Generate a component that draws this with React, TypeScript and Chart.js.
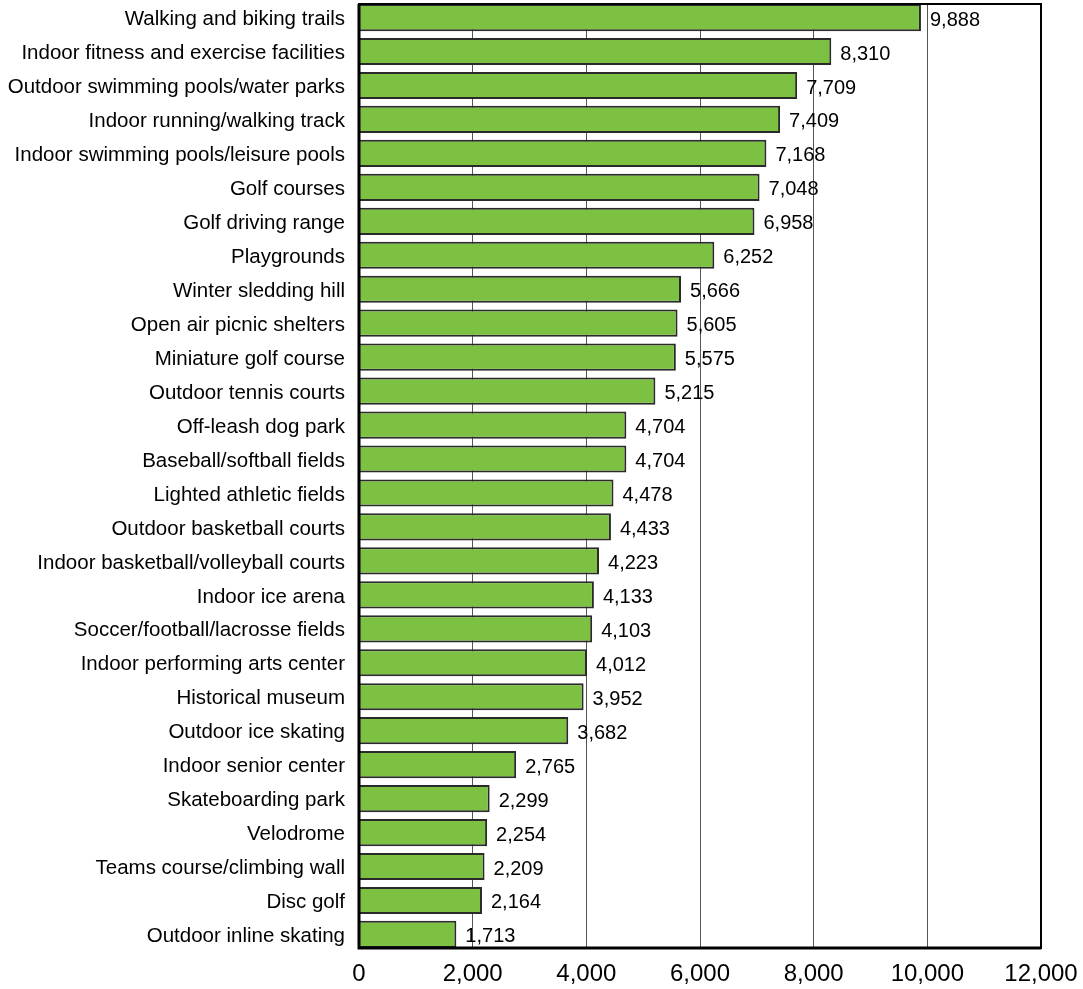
import React, { useEffect, useRef } from "react";
import { Chart, registerables } from "chart.js";

Chart.register(...registerables);

const categories = [
  "Walking and biking trails",
  "Indoor fitness and exercise facilities",
  "Outdoor swimming pools/water parks",
  "Indoor running/walking track",
  "Indoor swimming pools/leisure pools",
  "Golf courses",
  "Golf driving range",
  "Playgrounds",
  "Winter sledding hill",
  "Open air picnic shelters",
  "Miniature golf course",
  "Outdoor tennis courts",
  "Off-leash dog park",
  "Baseball/softball fields",
  "Lighted athletic fields",
  "Outdoor basketball courts",
  "Indoor basketball/volleyball courts",
  "Indoor ice arena",
  "Soccer/football/lacrosse fields",
  "Indoor performing arts center",
  "Historical museum",
  "Outdoor ice skating",
  "Indoor senior center",
  "Skateboarding park",
  "Velodrome",
  "Teams course/climbing wall",
  "Disc golf",
  "Outdoor inline skating",
];

const values = [
  9888, 8310, 7709, 7409, 7168, 7048, 6958, 6252, 5666, 5605, 5575, 5215, 4704, 4704,
  4478, 4433, 4223, 4133, 4103, 4012, 3952, 3682, 2765, 2299, 2254, 2209, 2164, 1713,
];

const xTicks = [0, 2000, 4000, 6000, 8000, 10000, 12000];

const FONT = "'Liberation Sans', Arial, sans-serif";
const CAT_PCT = 0.8;

const valueLabels = {
  id: "valueLabels",
  afterDatasetsDraw(chart: any) {
    const ctx = chart.ctx;
    const meta = chart.getDatasetMeta(0);
    ctx.save();
    ctx.font = `20px ${FONT}`;
    ctx.fillStyle = "#000";
    ctx.textAlign = "left";
    ctx.textBaseline = "middle";
    meta.data.forEach((bar: any, i: number) => {
      ctx.fillText(values[i].toLocaleString("en-US"), bar.x + 9, bar.y + 2.5);
    });
    ctx.restore();
  },
};

const frame = {
  id: "frame",
  afterDraw(chart: any) {
    const { ctx, chartArea: a } = chart;
    ctx.save();
    ctx.strokeStyle = "#000";
    ctx.lineWidth = 2;
    ctx.strokeRect(a.left, a.top, a.right - a.left, a.bottom - a.top);
    ctx.lineWidth = 3;
    ctx.beginPath();
    ctx.moveTo(a.left, a.top);
    ctx.lineTo(a.left, a.bottom);
    ctx.lineTo(a.right, a.bottom);
    ctx.stroke();
    ctx.restore();
  },
};

export default function App() {
  const ref = useRef<HTMLCanvasElement>(null);
  useEffect(() => {
    const chart = new Chart(ref.current!, {
      type: "bar",
      data: {
        labels: categories,
        datasets: [
          {
            data: values,
            backgroundColor: "#7CC142",
            borderColor: "#2a2a2a",
            borderWidth: 2,
            barPercentage: 1,
            categoryPercentage: CAT_PCT,
          },
        ],
      },
      options: {
        indexAxis: "y",
        animation: false,
        responsive: false,
        maintainAspectRatio: false,
        layout: { autoPadding: false, padding: { top: 4, right: 42, left: 0, bottom: 0 } },
        plugins: { legend: { display: false }, tooltip: { enabled: false } },
        scales: {
          x: {
            min: 0,
            max: 12000,
            afterBuildTicks: (s: any) => {
              s.ticks = xTicks.map((v) => ({ value: v }));
            },
            afterFit: (s: any) => {
              s.height = 41;
              s.paddingLeft = 0;
              s.paddingRight = 0;
            },
            grid: { color: "#555", lineWidth: 1, drawTicks: false },
            border: { display: false },
            ticks: {
              color: "#000",
              padding: 12,
              font: { family: FONT, size: 24 },
              callback: (v: any) => Number(v).toLocaleString("en-US"),
            },
          },
          y: {
            afterFit: (s: any) => {
              s.width = 359;
              s.paddingTop = 0;
              s.paddingBottom = 0;
              // first and last bars touch the frame, as in the reference
              const half = CAT_PCT / 2;
              s._startValue = -half;
              s._valueRange = categories.length - 1 + 2 * half;
            },
            grid: { display: false, drawTicks: false },
            border: { display: false },
            ticks: {
              color: "#000",
              padding: 14,
              labelOffset: 2,
              autoSkip: false,
              font: { family: FONT, size: 20.5 },
            },
          },
        },
      },
      plugins: [valueLabels, frame],
    });
    return () => chart.destroy();
  }, []);
  return (
    <div style={{ position: "fixed", left: 0, top: 0, width: 1083, height: 989, background: "#fff" }}>
      <canvas ref={ref} width={1083} height={989} style={{ width: 1083, height: 989 }} />
    </div>
  );
}
